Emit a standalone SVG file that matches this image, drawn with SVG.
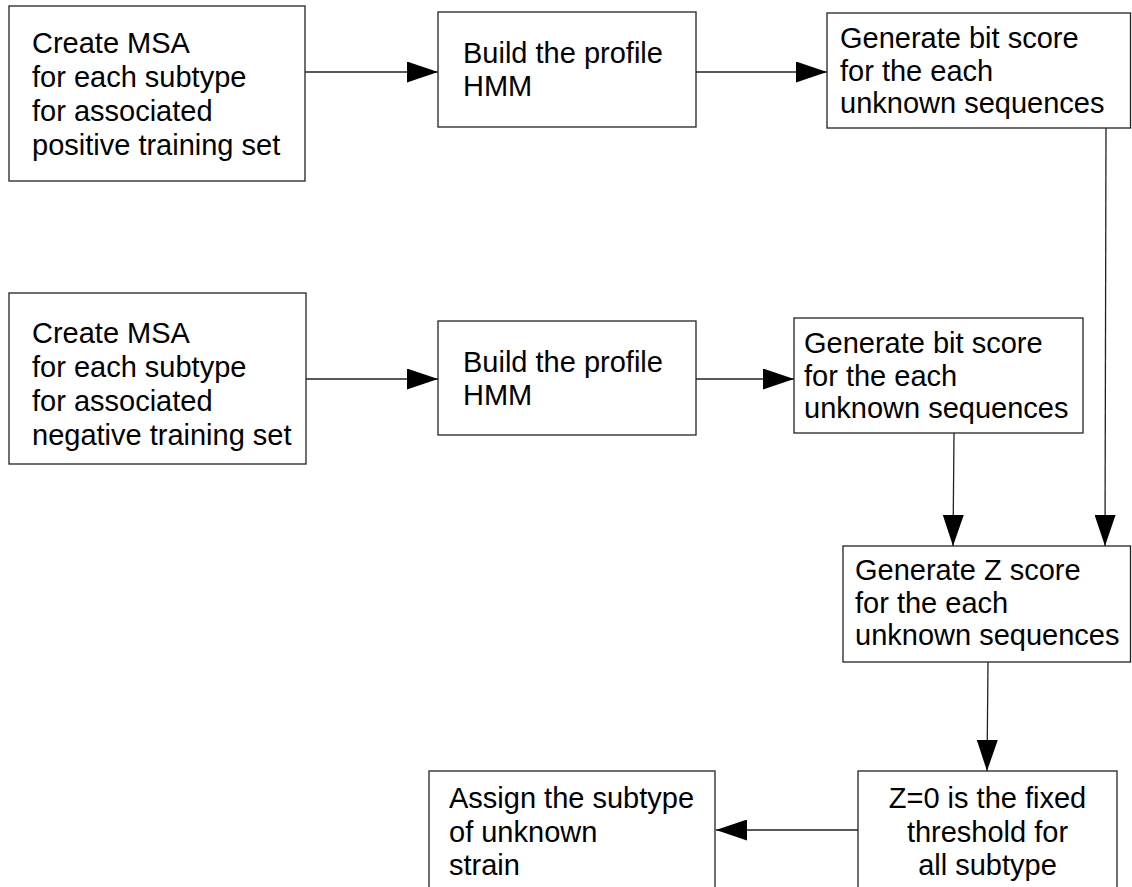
<svg xmlns="http://www.w3.org/2000/svg" width="1132" height="887" viewBox="0 0 1132 887">
<defs>
<style>
.box{fill:#fff;stroke:#222;stroke-width:1.3}
.t{font-family:"Liberation Sans",Arial,sans-serif;font-size:29px;fill:#000}
.c{fill:none;stroke:#222;stroke-width:1.3}
</style>
<marker id="ah" markerUnits="userSpaceOnUse" markerWidth="31" markerHeight="21" viewBox="0 0 31 21" refX="31" refY="10.5" orient="auto">
<path d="M0,0 L31,10.5 L0,21 z" fill="#000"/>
</marker>
</defs>
<rect width="1132" height="887" fill="#fff"/>
<g id="connectors">
<line class="c" x1="305" y1="72" x2="438" y2="72" marker-end="url(#ah)"/>
<line class="c" x1="696" y1="72" x2="827" y2="72" marker-end="url(#ah)"/>
<line class="c" x1="306" y1="379" x2="438" y2="379" marker-end="url(#ah)"/>
<line class="c" x1="696" y1="379" x2="794" y2="379" marker-end="url(#ah)"/>
<line class="c" x1="954" y1="433" x2="953" y2="546" marker-end="url(#ah)"/>
<line class="c" x1="1106" y1="128" x2="1105" y2="546" marker-end="url(#ah)"/>
<line class="c" x1="988" y1="662" x2="987" y2="771" marker-end="url(#ah)"/>
<line class="c" x1="858" y1="830" x2="716" y2="830" marker-end="url(#ah)"/>
</g>
<g id="msa-pos">
<rect class="box" x="9" y="6" width="296" height="175"/>
<text class="t" x="32" y="53">Create MSA</text>
<text class="t" x="32" y="87">for each subtype</text>
<text class="t" x="32" y="121">for associated</text>
<text class="t" x="32" y="155">positive training set</text>
</g>
<g id="hmm-pos">
<rect class="box" x="438" y="12" width="258" height="115"/>
<text class="t" x="463" y="63">Build the profile</text>
<text class="t" x="463" y="96">HMM</text>
</g>
<g id="bit-pos">
<rect class="box" x="827" y="13" width="303.5" height="115"/>
<text class="t" x="840" y="48">Generate bit score</text>
<text class="t" x="840" y="81">for the each</text>
<text class="t" x="840" y="113">unknown sequences</text>
</g>
<g id="msa-neg">
<rect class="box" x="9" y="293" width="297" height="171"/>
<text class="t" x="32" y="343">Create MSA</text>
<text class="t" x="32" y="377">for each subtype</text>
<text class="t" x="32" y="411">for associated</text>
<text class="t" x="32" y="445">negative training set</text>
</g>
<g id="hmm-neg">
<rect class="box" x="438" y="321" width="258" height="114"/>
<text class="t" x="463" y="372">Build the profile</text>
<text class="t" x="463" y="405">HMM</text>
</g>
<g id="bit-neg">
<rect class="box" x="794" y="318" width="289" height="115"/>
<text class="t" x="804" y="353">Generate bit score</text>
<text class="t" x="804" y="386">for the each</text>
<text class="t" x="804" y="418">unknown sequences</text>
</g>
<g id="zscore">
<rect class="box" x="843" y="546" width="287.5" height="116"/>
<text class="t" x="855" y="580">Generate Z score</text>
<text class="t" x="855" y="613">for the each</text>
<text class="t" x="855" y="645">unknown sequences</text>
</g>
<g id="threshold">
<rect class="box" x="858" y="771" width="259" height="130"/>
<text class="t" x="987.5" y="808" text-anchor="middle">Z=0 is the fixed</text>
<text class="t" x="987.5" y="842" text-anchor="middle">threshold for</text>
<text class="t" x="987.5" y="875" text-anchor="middle">all subtype</text>
</g>
<g id="assign">
<rect class="box" x="429" y="771" width="286" height="130"/>
<text class="t" x="449" y="808">Assign the subtype</text>
<text class="t" x="449" y="842">of unknown</text>
<text class="t" x="449" y="875">strain</text>
</g>
</svg>
